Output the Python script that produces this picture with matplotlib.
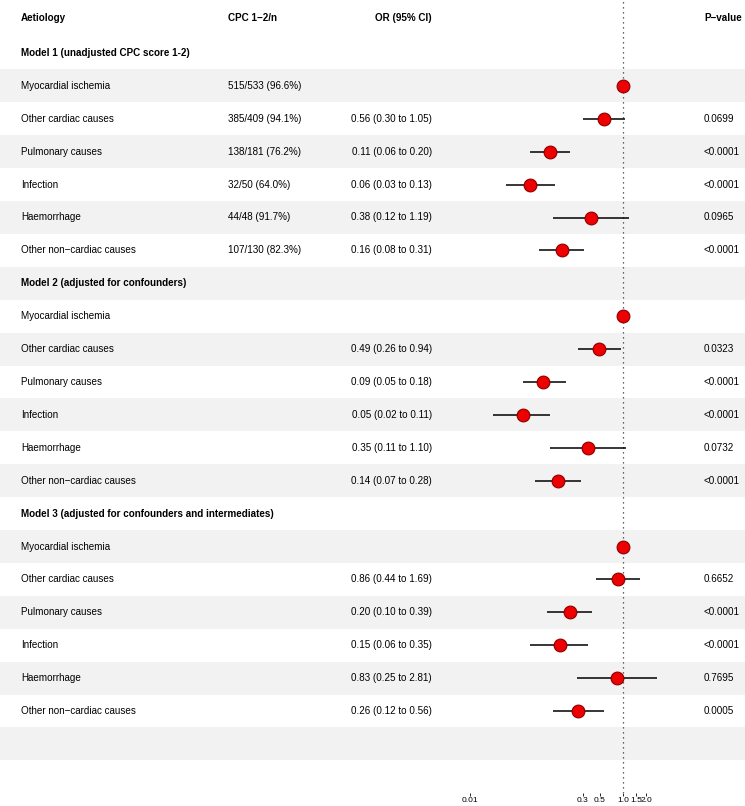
import numpy as np
import matplotlib
matplotlib.use("Agg")
import matplotlib.pyplot as plt

plt.rcParams['font.family'] = ['Liberation Sans', 'DejaVu Sans']

# ---------------- data ----------------
models = ["Model 1 (unadjusted CPC score 1-2)",
          "Model 2 (adjusted for confounders)",
          "Model 3 (adjusted for confounders and intermediates)"]
aetiology = ["Myocardial ischemia", "Other cardiac causes", "Pulmonary causes",
             "Infection", "Haemorrhage", "Other non\u2212cardiac causes"]
cpc_text = ["515/533 (96.6%)", "385/409 (94.1%)", "138/181 (76.2%)",
            "32/50 (64.0%)", "44/48 (91.7%)", "107/130 (82.3%)"]
or_est = [[1.00, 0.56, 0.11, 0.06, 0.38, 0.16],
          [1.00, 0.49, 0.09, 0.05, 0.35, 0.14],
          [1.00, 0.86, 0.20, 0.15, 0.83, 0.26]]
or_lo = [[1.00, 0.30, 0.06, 0.03, 0.12, 0.08],
         [1.00, 0.26, 0.05, 0.02, 0.11, 0.07],
         [1.00, 0.44, 0.10, 0.06, 0.25, 0.12]]
or_hi = [[1.00, 1.05, 0.20, 0.13, 1.19, 0.31],
         [1.00, 0.94, 0.18, 0.11, 1.10, 0.28],
         [1.00, 1.69, 0.39, 0.35, 2.81, 0.56]]
p_text = [["", "0.0699", "<0.0001", "<0.0001", "0.0965", "<0.0001"],
          ["", "0.0323", "<0.0001", "<0.0001", "0.0732", "<0.0001"],
          ["", "0.6652", "<0.0001", "<0.0001", "0.7695", "0.0005"]]
headers = ["Aetiology", "CPC 1\u22122/n", "OR (95% CI)", "P\u2212value"]
xticks = [0.01, 0.3, 0.5, 1.0, 1.5, 2.0]
xtick_labels = ["0.01", "0.3", "0.5", "1.0", "1.5", "2.0"]

# ---------------- layout ----------------
W, H = 745, 806
ROW0, ROWH = 53.0, 32.9          # pixel centre of first row, row height
HEADER_PX = 18.0
X_AET, X_CPC, X_OR, X_P = 21, 228, 432, 704
REF_PX, DEC_PX = 623.0, 76.5     # pixel of OR=1, pixels per decade
FL, FR = 440.0, 680.0            # forest axes pixel extents
AX_BOTTOM_PX = 793.0
FS = 7.1
BAND = "#f2f2f2"

fig = plt.figure(figsize=(W / 100, H / 100), dpi=100)
ax = fig.add_axes([0, 0, 1, 1])
ax.set_xlim(0, W)
ax.set_ylim((H - ROW0) / ROWH, -ROW0 / ROWH)
ax.axis("off")

n_rows = 3 * (len(aetiology) + 1) + 1
for i in range(n_rows):
    if i % 2 == 1:
        ax.axhspan(i - 0.5, i + 0.5, color=BAND, lw=0, zorder=0)

yh = (HEADER_PX - ROW0) / ROWH
ax.text(X_AET, yh, headers[0], fontsize=FS, fontweight="bold", va="center", ha="left")
ax.text(X_CPC, yh, headers[1], fontsize=FS, fontweight="bold", va="center", ha="left")
ax.text(X_OR, yh, headers[2], fontsize=FS, fontweight="bold", va="center", ha="right")
ax.text(X_P, yh, headers[3], fontsize=FS, fontweight="bold", va="center", ha="left")

# forest axes
lo_lim = 10 ** ((FL - REF_PX) / DEC_PX)
hi_lim = 10 ** ((FR - REF_PX) / DEC_PX)
ax2 = fig.add_axes([FL / W, (H - AX_BOTTOM_PX) / H, (FR - FL) / W, AX_BOTTOM_PX / H])
ax2.set_xscale("log")
ax2.set_xlim(lo_lim, hi_lim)
ax2.set_ylim((AX_BOTTOM_PX - ROW0) / ROWH, -ROW0 / ROWH)
ax2.patch.set_alpha(0)
for s in ax2.spines.values():
    s.set_visible(False)
ax2.set_yticks([])
ax2.set_xticks(xticks)
ax2.set_xticklabels(xtick_labels)
ax2.xaxis.set_minor_locator(matplotlib.ticker.NullLocator())
ax2.tick_params(axis="x", length=2, width=0.6, pad=1, labelsize=6)
ax2.axvline(1.0, color="#333333", ls=(0, (1, 3)), lw=0.9, zorder=1)

row = 0
for m in range(3):
    ax.text(X_AET, row, models[m], fontsize=FS, fontweight="bold", va="center", ha="left")
    row += 1
    for k, name in enumerate(aetiology):
        ax.text(X_AET, row, name, fontsize=FS, va="center", ha="left")
        if m == 0:
            ax.text(X_CPC, row, cpc_text[k], fontsize=FS, va="center", ha="left")
        if p_text[m][k]:
            ax.text(X_OR, row,
                    f"{or_est[m][k]:.2f} ({or_lo[m][k]:.2f} to {or_hi[m][k]:.2f})",
                    fontsize=FS, va="center", ha="right")
            ax.text(X_P, row, p_text[m][k], fontsize=FS, va="center", ha="left")
        ax2.plot([or_lo[m][k], or_hi[m][k]], [row, row], color="black", lw=1.1,
                 solid_capstyle="butt", zorder=2)
        ax2.plot([or_est[m][k]], [row], marker="o", ms=9.2, mfc="#ee0000",
                 mec="#8b0000", mew=0.8, zorder=3, ls="none")
        row += 1

fig.savefig("out.png", dpi=100)
